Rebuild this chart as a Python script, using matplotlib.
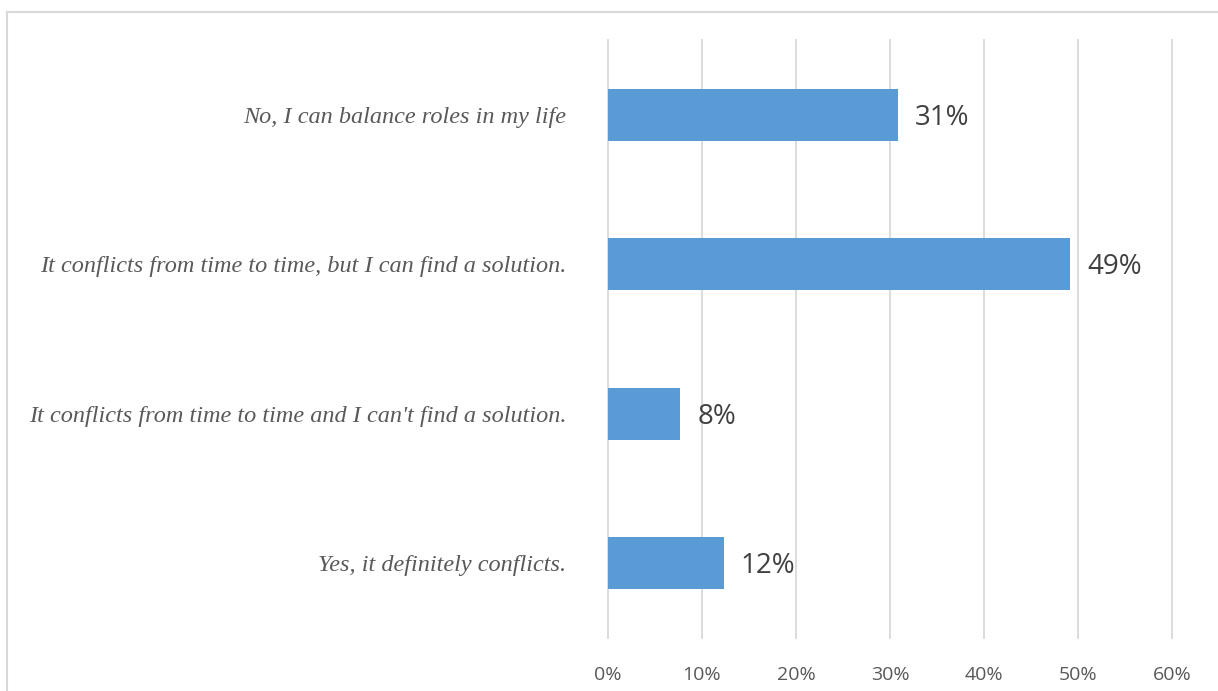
import matplotlib.pyplot as plt
from matplotlib.lines import Line2D
from matplotlib.ticker import FuncFormatter

categories = [
    "No, I can balance roles in my life",
    "It conflicts from time to time, but I can find a solution.",
    "It conflicts from time to time and I can't find a solution.",
    "Yes, it definitely conflicts.",
]
values = [30.8, 49.2, 7.7, 12.3]
labels = ["31%", "49%", "8%", "12%"]
ticks = [0, 10, 20, 30, 40, 50, 60]

W, H = 1218, 691
fig = plt.figure(figsize=(W / 100, H / 100), dpi=100)
ax = fig.add_axes([608 / W, (H - 638) / H, (1172 - 608) / W, (638 - 40) / H])

ypos = list(range(len(categories)))
ax.barh(ypos, values, height=0.35, color="#5b9bd5", zorder=3)
for y, v, lab in zip(ypos, values, labels):
    ax.text(v + 1.8, y + 0.02, lab, va="center", ha="left", fontsize=20,
            color="#404040", family="Open Sans")

ax.set_xlim(0, 60)
ax.set_ylim(len(categories) - 0.5, -0.5)
ax.set_xticks(ticks)
ax.xaxis.set_major_formatter(FuncFormatter(lambda x, p: f"{x:.0f}%"))
ax.set_yticks(ypos)
ax.set_yticklabels(categories, fontsize=17.5, color="#595959",
                   family="Liberation Serif", style="italic")
for t in ax.get_xticklabels():
    t.set_family("Open Sans")
    t.set_fontsize(14)
    t.set_color("#595959")
ax.tick_params(axis="x", length=0, pad=20)
ax.tick_params(axis="y", length=0, pad=30)
ax.grid(axis="x", color="#d9d9d9", linewidth=1.3, zorder=0)
for gl in ax.get_xgridlines():
    gl.set_clip_on(False)
for s in ax.spines.values():
    s.set_visible(False)

# chart frame (cut off on right and bottom)
fig.add_artist(Line2D([6.5 / W, 1], [1 - 12 / H, 1 - 12 / H], color="#d9d9d9", lw=1.5))
fig.add_artist(Line2D([6.5 / W, 6.5 / W], [0, 1 - 12 / H], color="#d9d9d9", lw=1.5))

fig.savefig("out.png", dpi=100, facecolor="white")
